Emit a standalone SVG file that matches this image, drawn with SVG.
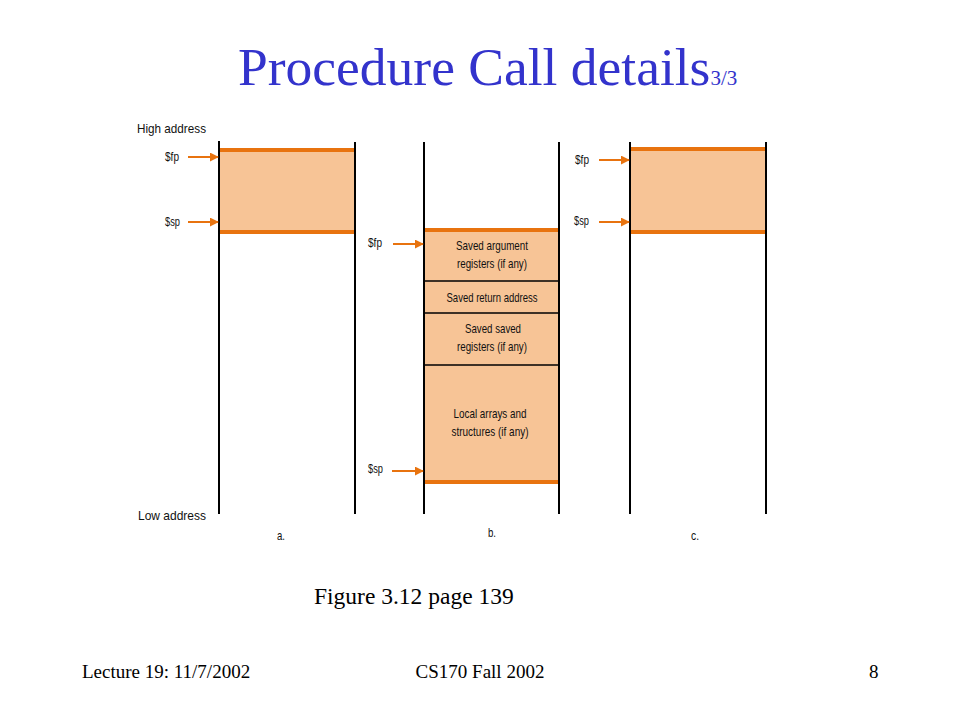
<svg xmlns="http://www.w3.org/2000/svg" width="960" height="720" viewBox="0 0 960 720">
<defs>
<style>
.title{font-family:"Liberation Serif","Times New Roman",serif;fill:#3333CC;}
.serif{font-family:"Liberation Serif","Times New Roman",serif;fill:#000;}
.lbl{font-family:"Liberation Sans",Arial,sans-serif;font-size:13.5px;fill:#111;}
.ctr{text-anchor:middle;}
.wall{stroke:#000;stroke-width:2;fill:none;}
.frame{fill:#F7C496;stroke:none;}
.edge{stroke:#E8730F;stroke-width:4;fill:none;}
.div{stroke:#000;stroke-width:1.3;fill:none;}
.arr{stroke:#E8730F;stroke-width:2;fill:none;marker-end:url(#ah);}
</style>
<marker id="ah" viewBox="0 0 10 10" refX="9" refY="5" markerWidth="4.5" markerHeight="4.5" orient="auto" markerUnits="strokeWidth">
<path d="M0,0 L10,5 L0,10 z" fill="#E8730F"/>
</marker>
</defs>
<rect width="960" height="720" fill="#fff"/>
<text class="title" x="238" y="85" font-size="53.5">Procedure Call details<tspan font-size="21">3/3</tspan></text>

<g id="axis-labels">
<text class="lbl" x="137" y="133" textLength="69" lengthAdjust="spacingAndGlyphs">High address</text>
<text class="lbl" x="138" y="520" textLength="68" lengthAdjust="spacingAndGlyphs">Low address</text>
</g>

<g id="panel-a">
<rect class="frame" x="219" y="150" width="136" height="82"/>
<line class="edge" x1="219" y1="150" x2="355" y2="150"/>
<line class="edge" x1="219" y1="232" x2="355" y2="232"/>
<line class="wall" x1="219" y1="141" x2="219" y2="514"/>
<line class="wall" x1="355" y1="142" x2="355" y2="514"/>
<text class="lbl" x="165" y="161" textLength="14" lengthAdjust="spacingAndGlyphs">$fp</text>
<text class="lbl" x="165" y="226" textLength="15" lengthAdjust="spacingAndGlyphs">$sp</text>
<text class="lbl" x="277" y="540" textLength="8" lengthAdjust="spacingAndGlyphs">a.</text>
</g>

<g id="panel-b">
<rect class="frame" x="424" y="230" width="135" height="252"/>
<line class="edge" x1="424" y1="230" x2="559" y2="230"/>
<line class="div" x1="424" y1="281" x2="559" y2="281"/>
<line class="div" x1="424" y1="313" x2="559" y2="313"/>
<line class="div" x1="424" y1="365" x2="559" y2="365"/>
<line class="edge" x1="424" y1="482" x2="559" y2="482"/>
<line class="wall" x1="424" y1="142" x2="424" y2="514"/>
<line class="wall" x1="559" y1="142" x2="559" y2="514"/>
<text class="lbl ctr" x="492" y="250" textLength="72" lengthAdjust="spacingAndGlyphs">Saved argument</text>
<text class="lbl ctr" x="492" y="268" textLength="70" lengthAdjust="spacingAndGlyphs">registers (if any)</text>
<text class="lbl ctr" x="492" y="302" textLength="91" lengthAdjust="spacingAndGlyphs">Saved return address</text>
<text class="lbl ctr" x="493" y="333" textLength="56" lengthAdjust="spacingAndGlyphs">Saved saved</text>
<text class="lbl ctr" x="492" y="351" textLength="70" lengthAdjust="spacingAndGlyphs">registers (if any)</text>
<text class="lbl ctr" x="490" y="418" textLength="73" lengthAdjust="spacingAndGlyphs">Local arrays and</text>
<text class="lbl ctr" x="490" y="436" textLength="77" lengthAdjust="spacingAndGlyphs">structures (if any)</text>
<text class="lbl" x="368" y="247" textLength="14" lengthAdjust="spacingAndGlyphs">$fp</text>
<text class="lbl" x="368" y="473" textLength="15" lengthAdjust="spacingAndGlyphs">$sp</text>
<text class="lbl" x="488" y="537" textLength="8" lengthAdjust="spacingAndGlyphs">b.</text>
</g>

<g id="panel-c">
<rect class="frame" x="630" y="149" width="136" height="83"/>
<line class="edge" x1="630" y1="149" x2="766" y2="149"/>
<line class="edge" x1="630" y1="232" x2="766" y2="232"/>
<line class="wall" x1="630" y1="142" x2="630" y2="514"/>
<line class="wall" x1="766" y1="142" x2="766" y2="514"/>
<text class="lbl" x="575" y="164" textLength="14" lengthAdjust="spacingAndGlyphs">$fp</text>
<text class="lbl" x="574" y="225" textLength="15" lengthAdjust="spacingAndGlyphs">$sp</text>
<text class="lbl" x="691" y="540" textLength="8" lengthAdjust="spacingAndGlyphs">c.</text>
</g>

<g id="connectors">
<line class="arr" x1="188" y1="157" x2="218" y2="157"/>
<line class="arr" x1="188" y1="222" x2="218" y2="222"/>
<line class="arr" x1="393" y1="244" x2="423" y2="244"/>
<line class="arr" x1="392" y1="471" x2="423" y2="471"/>
<line class="arr" x1="599" y1="160" x2="629" y2="160"/>
<line class="arr" x1="599" y1="222" x2="629" y2="222"/>
</g>

<text class="serif" x="314" y="604" font-size="23.5">Figure 3.12 page 139</text>
<text class="serif" x="82" y="678" font-size="19">Lecture 19: 11/7/2002</text>
<text class="serif ctr" x="480" y="678" font-size="19">CS170 Fall 2002</text>
<text class="serif" x="869" y="678" font-size="19">8</text>
</svg>
